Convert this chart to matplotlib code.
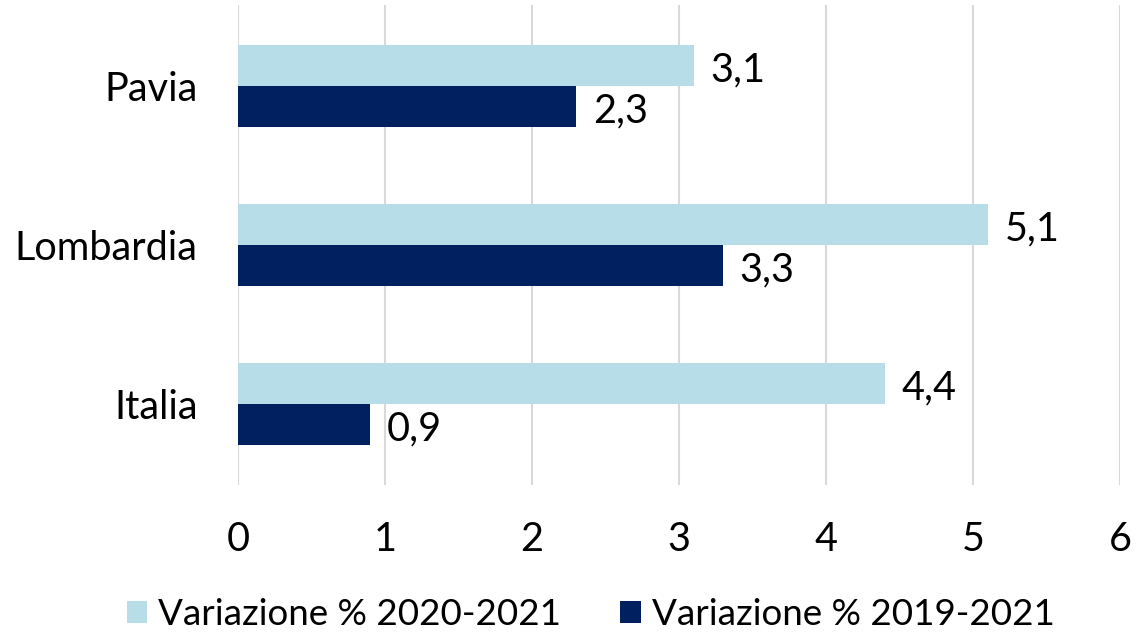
import numpy as np
import matplotlib.pyplot as plt

plt.rcParams['font.family'] = ['Lato', 'DejaVu Sans']

regioni = ['Italia', 'Lombardia', 'Pavia']
var_2020_2021 = [4.4, 5.1, 3.1]
var_2019_2021 = [0.9, 3.3, 2.3]
etichette = ['Variazione % 2020-2021', 'Variazione % 2019-2021']

col_chiaro = '#B7DEE8'
col_scuro = '#002060'

fig = plt.figure(figsize=(11.42, 6.35), dpi=100)
ax = fig.add_axes([0.2084, 0.236, 0.7723, 0.756])

y = np.arange(len(regioni))
h = 0.258
b1 = ax.barh(y + h / 2, var_2020_2021, height=h, color=col_chiaro, label=etichette[0], zorder=3)
b2 = ax.barh(y - h / 2, var_2019_2021, height=h, color=col_scuro, label=etichette[1], zorder=3)

for bars in (b1, b2):
    for r in bars:
        v = r.get_width()
        ax.annotate(('%.1f' % v).replace('.', ','),
                    (v, r.get_y() + r.get_height() / 2),
                    xytext=(12, -3), textcoords='offset points',
                    va='center', ha='left', fontsize=28.5)

ax.set_xlim(0, 6)
ax.set_ylim(-0.51, 2.51)
ax.set_yticks(y)
ax.set_yticklabels(regioni, fontsize=28.5)
ax.set_xticks(range(0, 7))
ax.tick_params(axis='x', labelsize=28.5, length=0, pad=26)
ax.tick_params(axis='y', length=0, pad=29)
ax.grid(True, axis='x', color='#D9D9D9', linewidth=1.5, zorder=0)
for s in ax.spines.values():
    s.set_visible(False)

ax.legend(loc='center', bbox_to_anchor=(0.40, -0.27), ncol=2, frameon=False,
          fontsize=26.5, handlelength=0.55, handleheight=0.55, handletextpad=0.3,
          columnspacing=1.6)

plt.savefig('out.png')
